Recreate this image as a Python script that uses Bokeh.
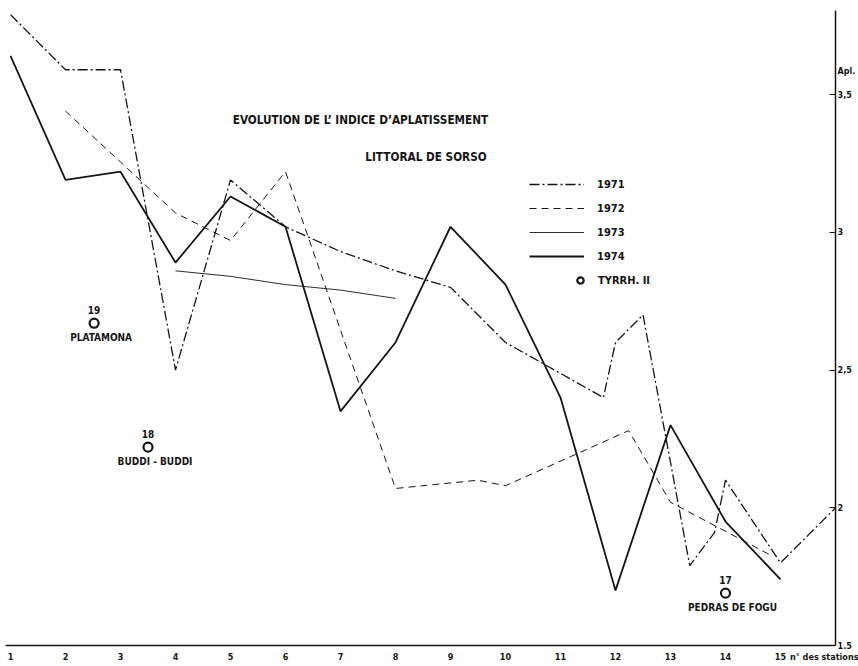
from bokeh.plotting import figure
from bokeh.models import (ColumnDataSource, Range1d, FixedTicker, Legend,
                          LegendItem, Label)
from bokeh.core.properties import value
from bokeh.embed import file_html
from bokeh.resources import INLINE

# --- data: flattening index (Apl.) per station, Sorso coast -------------
stations_1971 = [1, 2, 3, 4, 5, 6, 7, 8, 9, 10, 11.78, 12, 12.5, 13.35, 13.8, 14, 15, 16]
apl_1971 = [3.79, 3.59, 3.59, 2.50, 3.19, 3.02, 2.93, 2.86, 2.80, 2.60, 2.40,
            2.60, 2.70, 1.79, 1.91, 2.10, 1.80, 2.00]

stations_1972 = [2, 4, 5, 6, 8, 9.5, 10, 12.24, 13, 14.8]
apl_1972 = [3.44, 3.07, 2.97, 3.22, 2.07, 2.10, 2.08, 2.28, 2.02, 1.83]

stations_1973 = [4, 5, 6, 7, 8]
apl_1973 = [2.86, 2.84, 2.81, 2.79, 2.76]

stations_1974 = [1, 2, 3, 4, 5, 6, 7, 8, 9, 10, 11, 12, 13, 14, 15]
apl_1974 = [3.64, 3.19, 3.22, 2.89, 3.13, 3.02, 2.35, 2.60, 3.02, 2.81, 2.40,
            1.70, 2.30, 1.95, 1.74]

# Tyrrhenian (Tyrrh. II) reference beaches
tyrrh_station = [2.52, 3.50, 14.0]
tyrrh_apl = [2.67, 2.22, 1.69]
tyrrh_number = ["19", "18", "17"]
tyrrh_name = ["PLATAMONA", "BUDDI - BUDDI", "PEDRAS DE FOGU"]

# axis ticks and their texts (the last entry of each is the axis name)
station_ticks = [1, 2, 3, 4, 5, 6, 7, 8, 9, 10, 11, 12, 13, 14, 15, 15.8]
station_tick_labels = [str(i) for i in range(1, 16)] + ["n\u00b0 des stations"]
apl_ticks = [1.5, 2, 2.5, 3, 3.5, 3.587]
apl_tick_labels = ["1.5", "2", "2,5", "3", "3,5", "Apl."]
apl_marks = [1.5, 2, 2.5, 3, 3.5]

FONT = "DejaVu Sans Condensed"
INK = "#151515"

p = figure(width=858, height=666, output_backend="svg", toolbar_location=None,
           x_range=Range1d(0.909, 16.0), y_range=Range1d(1.5, 3.805),
           y_axis_location="right",
           min_border_left=5, min_border_right=23,
           min_border_top=10, min_border_bottom=21)
p.grid.visible = False
p.outline_line_color = None
p.background_fill_color = "white"
p.border_fill_color = "white"

# bottom axis: station numbers
xa = p.xaxis[0]
xa.ticker = FixedTicker(ticks=station_ticks)
xa.major_label_overrides = {t: s for t, s in zip(station_ticks, station_tick_labels)}
xa.major_tick_in = 0
xa.major_tick_out = 0
xa.minor_tick_in = 0
xa.minor_tick_out = 0
xa.minor_tick_line_color = None
xa.axis_line_color = INK
xa.axis_line_width = 1.3
xa.major_label_standoff = 6
xa.major_label_text_font = FONT
xa.major_label_text_font_style = "bold"
xa.major_label_text_font_size = "9px"
xa.major_label_text_color = INK

# right axis: Apl. values; tick marks drawn as minor ticks so the
# "Apl." heading carries no mark
ya = p.yaxis[0]
ya.ticker = FixedTicker(ticks=apl_ticks, minor_ticks=apl_marks)
ya.major_label_overrides = {t: s for t, s in zip(apl_ticks, apl_tick_labels)}
ya.major_tick_line_color = None
ya.major_tick_in = 0
ya.major_tick_out = 0
ya.minor_tick_in = 6
ya.minor_tick_out = 0
ya.minor_tick_line_color = INK
ya.minor_tick_line_width = 1.2
ya.axis_line_color = INK
ya.axis_line_width = 1.5
ya.major_label_standoff = 2
ya.major_label_orientation = "horizontal"
ya.major_label_text_font = FONT
ya.major_label_text_font_style = "bold"
ya.major_label_text_font_size = "9px"
ya.major_label_text_color = INK

r71 = p.line(stations_1971, apl_1971, line_color=INK, line_width=1.3,
             line_dash="10 3 2 3")
r72 = p.line(stations_1972, apl_1972, line_color=INK, line_width=1.0,
             line_dash="7 5")
r73 = p.line(stations_1973, apl_1973, line_color=INK, line_width=0.9)
r74 = p.line(stations_1974, apl_1974, line_color=INK, line_width=1.8)

src = ColumnDataSource(dict(x=tyrrh_station, y=tyrrh_apl,
                            num=tyrrh_number, name=tyrrh_name))
rt = p.scatter("x", "y", source=src, marker="circle", size=9,
               fill_color="white", line_color=INK, line_width=2.2)
p.text("x", "y", text="num", source=src, text_font=value(FONT),
       text_font_style="bold", text_font_size="10px", text_color=INK,
       text_align="center", text_baseline="middle", y_offset=-13)
p.text("x", "y", text="name", source=src, text_font=value(FONT),
       text_font_style="bold", text_font_size="10px", text_color=INK,
       text_align="center", text_baseline="middle", x_offset=7, y_offset=14)

def label(x, y, text, size="11.7px"):
    p.add_layout(Label(x=x, y=y, text=text, text_font=FONT,
                       text_font_style="bold", text_font_size=size,
                       text_color=INK, text_align="left",
                       text_baseline="middle"))

label(5.04, 3.406, "EVOLUTION DE L\u2019 INDICE D\u2019APLATISSEMENT")
label(7.45, 3.275, "LITTORAL DE  SORSO")

legend_style = dict(orientation="vertical", glyph_height=20, label_height=20,
                    spacing=4, padding=0, margin=0, border_line_color=None,
                    background_fill_alpha=0, label_text_font=FONT,
                    label_text_font_style="bold", label_text_font_size="11px",
                    label_text_color=INK)
years = Legend(items=[LegendItem(label="1971", renderers=[r71]),
                      LegendItem(label="1972", renderers=[r72]),
                      LegendItem(label="1973", renderers=[r73]),
                      LegendItem(label="1974", renderers=[r74])],
               location=(524, 379), glyph_width=55, label_standoff=13,
               **legend_style)
tyrrh = Legend(items=[LegendItem(label="TYRRH. II", renderers=[rt])],
               location=(567, 355), glyph_width=16, label_standoff=10,
               **legend_style)
p.add_layout(years)
p.add_layout(tyrrh)

open("out.html", "w").write(file_html(p, INLINE))
